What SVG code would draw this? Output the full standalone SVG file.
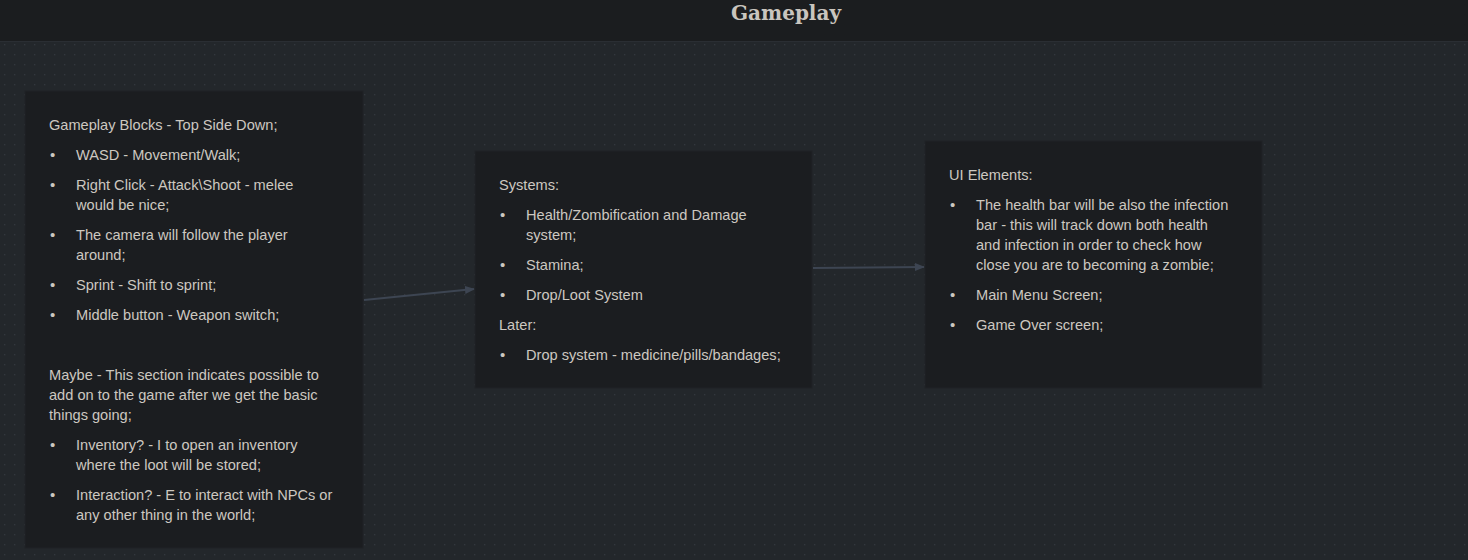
<svg xmlns="http://www.w3.org/2000/svg" width="1468" height="560" viewBox="0 0 1468 560">
<defs>
<pattern id="dots" x="0" y="0" width="10" height="10" patternUnits="userSpaceOnUse">
<rect width="10" height="10" fill="#23272b"/>
<rect x="4" y="4" width="1.3" height="1.3" fill="#33383e"/>
</pattern>
<marker id="arr" viewBox="0 0 10 10" refX="9" refY="5" markerWidth="10" markerHeight="10" markerUnits="userSpaceOnUse" orient="auto">
<path d="M0,1 L10,5 L0,9 Z" fill="#3d4552"/>
</marker>
</defs>
<style>
.node{fill:#1b1d20;stroke:#202326;stroke-width:1}
.t{font-family:"Liberation Sans",Arial,sans-serif;font-size:14.6px;fill:#cdc8c0}
.b{font-family:"Liberation Sans",Arial,sans-serif;font-size:15px;fill:#cdc8c0}
.edge{fill:none;stroke:#3d4552;stroke-width:2}
.title{font-family:"DejaVu Serif","Liberation Serif",serif;font-weight:bold;font-size:20px;fill:#c9c5be}
</style>
<rect width="1468" height="560" fill="url(#dots)"/>
<rect width="1468" height="41" fill="#1b1d1f"/>
<rect y="41" width="1468" height="1" fill="#2a2e33"/>
<text class="title" x="786" y="14" text-anchor="middle" dominant-baseline="middle">Gameplay</text>
<g id="connectors">
<path class="edge" d="M364,300 L474,289" marker-end="url(#arr)"/>
<path class="edge" d="M813,268 L924,267" marker-end="url(#arr)"/>
</g>
<g id="node-gameplay-blocks">
<rect class="node" x="25" y="91" width="338" height="457"/>
<text class="t" x="49" y="130">Gameplay Blocks - Top Side Down;</text>
<text class="b" x="50" y="160">•</text><text class="t" x="76" y="160">WASD - Movement/Walk;</text>
<text class="b" x="50" y="190">•</text><text class="t" x="76" y="190">Right Click - Attack\Shoot - melee</text>
<text class="t" x="76" y="210">would be nice;</text>
<text class="b" x="50" y="240">•</text><text class="t" x="76" y="240">The camera will follow the player</text>
<text class="t" x="76" y="260">around;</text>
<text class="b" x="50" y="290">•</text><text class="t" x="76" y="290">Sprint - Shift to sprint;</text>
<text class="b" x="50" y="320">•</text><text class="t" x="76" y="320">Middle button - Weapon switch;</text>
<text class="t" x="49" y="380">Maybe - This section indicates possible to</text>
<text class="t" x="49" y="400">add on to the game after we get the basic</text>
<text class="t" x="49" y="420">things going;</text>
<text class="b" x="50" y="450">•</text><text class="t" x="76" y="450">Inventory? - I to open an inventory</text>
<text class="t" x="76" y="470">where the loot will be stored;</text>
<text class="b" x="50" y="500">•</text><text class="t" x="76" y="500">Interaction? - E to interact with NPCs or</text>
<text class="t" x="76" y="520">any other thing in the world;</text>
</g>
<g id="node-systems">
<rect class="node" x="475" y="151" width="337" height="237"/>
<text class="t" x="499" y="190">Systems:</text>
<text class="b" x="500" y="220">•</text><text class="t" x="526" y="220">Health/Zombification and Damage</text>
<text class="t" x="526" y="240">system;</text>
<text class="b" x="500" y="270">•</text><text class="t" x="526" y="270">Stamina;</text>
<text class="b" x="500" y="300">•</text><text class="t" x="526" y="300">Drop/Loot System</text>
<text class="t" x="499" y="330">Later:</text>
<text class="b" x="500" y="360">•</text><text class="t" x="526" y="360">Drop system - medicine/pills/bandages;</text>
</g>
<g id="node-ui-elements">
<rect class="node" x="925" y="141" width="337" height="247"/>
<text class="t" x="949" y="180">UI Elements:</text>
<text class="b" x="950" y="210">•</text><text class="t" x="976" y="210">The health bar will be also the infection</text>
<text class="t" x="976" y="230">bar - this will track down both health</text>
<text class="t" x="976" y="250">and infection in order to check how</text>
<text class="t" x="976" y="270">close you are to becoming a zombie;</text>
<text class="b" x="950" y="300">•</text><text class="t" x="976" y="300">Main Menu Screen;</text>
<text class="b" x="950" y="330">•</text><text class="t" x="976" y="330">Game Over screen;</text>
</g>
</svg>
